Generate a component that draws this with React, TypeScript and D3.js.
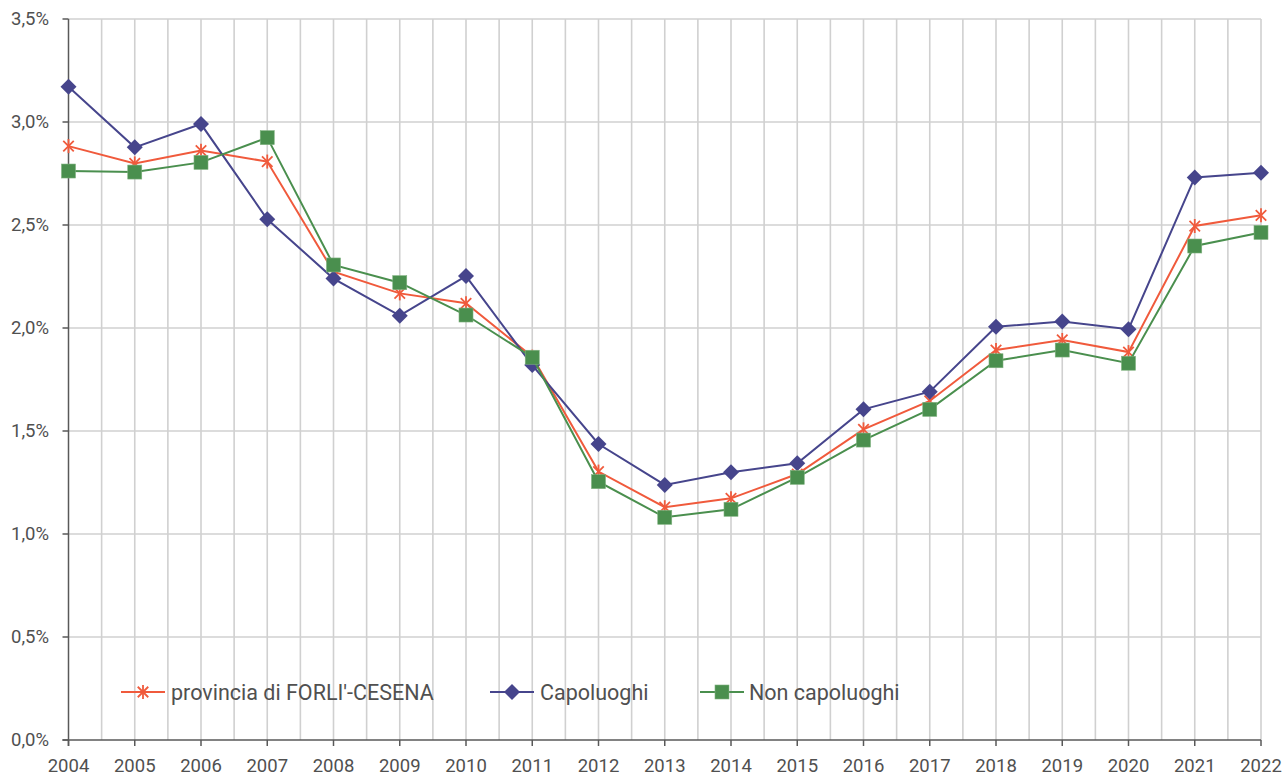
import React from "react";
import * as d3 from "d3";

const years = ["2004","2005","2006","2007","2008","2009","2010","2011","2012","2013","2014","2015","2016","2017","2018","2019","2020","2021","2022"];
const provincia = [2.883,2.799,2.861,2.808,2.273,2.168,2.120,1.861,1.303,1.130,1.173,1.291,1.508,1.646,1.893,1.942,1.883,2.495,2.547];
const capoluoghi = [3.171,2.877,2.990,2.528,2.240,2.060,2.252,1.820,1.437,1.238,1.300,1.343,1.605,1.691,2.006,2.031,1.994,2.731,2.754];
const nonCapoluoghi = [2.762,2.757,2.804,2.924,2.306,2.220,2.063,1.858,1.254,1.081,1.120,1.275,1.456,1.605,1.841,1.893,1.829,2.398,2.464];
const yTicks = [0,0.5,1,1.5,2,2.5,3,3.5];
const seriesNames = ["provincia di FORLI'-CESENA","Capoluoghi","Non capoluoghi"];

const W = 1282, H = 778;
const left = 68.5, right = 1261, top = 19, bottom = 740;
const FONT = "Roboto, 'Liberation Sans', Arial, sans-serif";
const TXT = "#505050";

const colors = ["#F05A3C", "#46458C", "#4A8F4E"];

function Marker({ kind, x, y, color }: { kind: number; x: number; y: number; color: string }) {
  if (kind === 0) {
    const r = 7;
    const d = r * 0.75;
    return (
      <g stroke={color} strokeWidth={1.8}>
        <line x1={x} y1={y - r} x2={x} y2={y + r} />
        <line x1={x - d} y1={y - d} x2={x + d} y2={y + d} />
        <line x1={x - d} y1={y + d} x2={x + d} y2={y - d} />
      </g>
    );
  }
  if (kind === 1) {
    const r = 8;
    return <path d={`M${x},${y - r}L${x + r},${y}L${x},${y + r}L${x - r},${y}Z`} fill={color} />;
  }
  const s = 7;
  return <rect x={x - s} y={y - s} width={2 * s} height={2 * s} fill={color} stroke="#7fb17f" strokeWidth={0.6} />;
}

export default function App() {
  const x = d3.scaleLinear().domain([0, years.length - 1]).range([left, right]);
  const y = d3.scaleLinear().domain([0, 3.5]).range([bottom, top]);
  const data = [provincia, capoluoghi, nonCapoluoghi];
  const line = d3.line<number>().x((_, i) => x(i)).y((d) => y(d));
  const halfGrid = d3.range(0, years.length - 0.5, 0.5).slice(1);
  const fmt = (v: number) => v.toFixed(1).replace(".", ",") + "%";

  const legendItems = [
    { lx: 121, tx: 171 },
    { lx: 490, tx: 540 },
    { lx: 700, tx: 749 },
  ];
  const ly = 692;

  return (
    <svg width={W} height={H} style={{ position: "absolute", left: 0, top: 0, background: "#fff" }}>
      <rect width={W} height={H} fill="#fff" />
      {halfGrid.map((g) => (
        <line key={"v" + g} x1={x(g)} x2={x(g)} y1={top} y2={bottom} stroke="#D0D0D0" strokeWidth={1.6} />
      ))}
      {yTicks.filter((t) => t > 0).map((t) => (
        <line key={"h" + t} x1={left} x2={right} y1={y(t)} y2={y(t)} stroke="#D0D0D0" strokeWidth={1.6} />
      ))}
      <line x1={left} x2={left} y1={top} y2={bottom + 6} stroke="#595959" strokeWidth={1.5} />
      <line x1={left - 6} x2={right} y1={bottom} y2={bottom} stroke="#595959" strokeWidth={1.5} />
      {yTicks.map((t) => (
        <g key={"yt" + t}>
          <line x1={left - 6} x2={left} y1={y(t)} y2={y(t)} stroke="#595959" strokeWidth={1.5} />
          <text x={49} y={y(t)} dy="0.35em" textAnchor="end" fontFamily={FONT} fontSize={18.5} fill={TXT}>
            {fmt(t)}
          </text>
        </g>
      ))}
      {years.map((yr, i) => (
        <g key={"xt" + yr}>
          <line x1={x(i)} x2={x(i)} y1={bottom} y2={bottom + 6} stroke="#595959" strokeWidth={1.5} />
          <text x={x(i)} y={772} textAnchor="middle" fontFamily={FONT} fontSize={18.5} fill={TXT}>
            {yr}
          </text>
        </g>
      ))}
      {data.map((s, k) => (
        <g key={"s" + k}>
          <path d={line(s) || ""} fill="none" stroke={colors[k]} strokeWidth={2} />
          {s.map((v, i) => (
            <Marker key={i} kind={k} x={x(i)} y={y(v)} color={colors[k]} />
          ))}
        </g>
      ))}
      {legendItems.map((it, k) => (
        <g key={"lg" + k}>
          <line x1={it.lx} x2={it.lx + 44} y1={ly} y2={ly} stroke={colors[k]} strokeWidth={2} />
          <Marker kind={k} x={it.lx + 22} y={ly} color={colors[k]} />
          <text x={it.tx} y={ly} dy="0.35em" fontFamily={FONT} fontSize={21.5} fill={TXT}>
            {seriesNames[k]}
          </text>
        </g>
      ))}
    </svg>
  );
}
